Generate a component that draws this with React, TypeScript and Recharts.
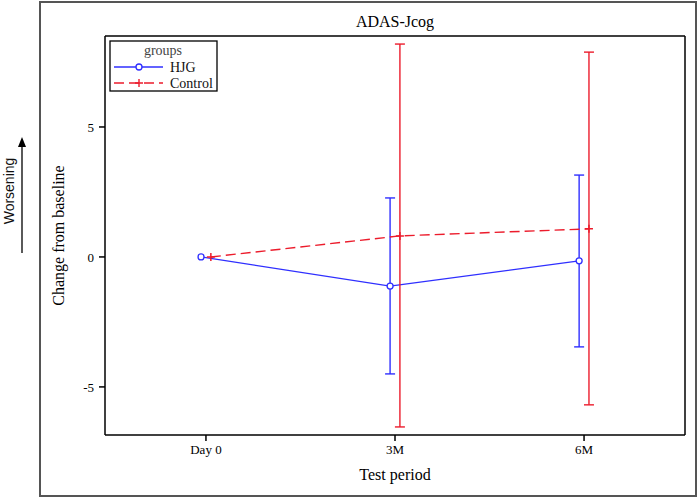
import React from "react";
import { ComposedChart, Line, XAxis, YAxis, ErrorBar, ReferenceLine } from "recharts";

// change from baseline
const categories = ["Day 0", "3M", "6M"];
const hjgMeans = [0, -1.12, -0.15];
const hjgUpper = [null, 2.27, 3.15];
const hjgLower = [null, -4.5, -3.46];
const controlMeans = [0, 0.81, 1.08];
const controlUpper = [null, 8.19, 7.88];
const controlLower = [null, -6.54, -5.69];
const yTicks = [-5, 0, 5];
const xTicks = [0, 1, 2];
const xDomain: [number, number] = [-0.534, 2.534];
const yDomain: [number, number] = [-6.85, 8.5];

const BLUE = "#2f2fff";
const RED = "#ec1c2c";
const SERIF = "'Liberation Serif', 'Times New Roman', serif";
const DODGE = 0.026;

function buildSeries(
  means: number[],
  upper: (number | null)[],
  lower: (number | null)[],
  shift: number
) {
  return categories.map((name, i) => {
    const hi = upper[i];
    const lo = lower[i];
    return {
      name,
      x: i + shift,
      value: means[i],
      err: hi == null || lo == null ? null : [means[i] - lo, hi - means[i]],
    };
  });
}

const hjgData = buildSeries(hjgMeans, hjgUpper, hjgLower, -DODGE);
const controlData = buildSeries(controlMeans, controlUpper, controlLower, DODGE);

const PlusDot = (props: any) => {
  const { cx, cy, index } = props;
  if (cx == null || cy == null) return null;
  return (
    <path
      key={`plus-${index}`}
      d={`M${cx - 4},${cy}h8M${cx},${cy - 4}v8`}
      stroke={RED}
      strokeWidth={1.5}
      fill="none"
    />
  );
};

function LegendBox() {
  return (
    <svg
      width={110}
      height={53}
      style={{ position: "absolute", left: 109, top: 40 }}
    >
      <rect x={1} y={1} width={107} height={50} fill="#fff" stroke="#000" strokeWidth={1.3} />
      <text x={54} y={15} textAnchor="middle" fontFamily={SERIF} fontSize={14} fill="#444">
        groups
      </text>
      <line x1={5} y1={27} x2={54} y2={27} stroke={BLUE} strokeWidth={1.4} />
      <circle cx={30} cy={27} r={3} fill="#fff" stroke={BLUE} strokeWidth={1.3} />
      <text x={61} y={32} fontFamily={SERIF} fontSize={14} fill="#111">
        HJG
      </text>
      <line x1={5} y1={43} x2={54} y2={43} stroke={RED} strokeWidth={1.4} strokeDasharray="10 5" />
      <path d="M26,43h8M30,39v8" stroke={RED} strokeWidth={1.4} />
      <text x={61} y={48} fontFamily={SERIF} fontSize={14} fill="#111">
        Control
      </text>
    </svg>
  );
}

export default function App() {
  return (
    <div style={{ position: "absolute", left: 0, top: 0, width: 699, height: 498, background: "#fff" }}>
      <div
        style={{
          position: "absolute",
          left: 39,
          top: 1,
          width: 654,
          height: 492,
          border: "2px solid #555",
        }}
      />
      <svg width={40} height={300} style={{ position: "absolute", left: 0, top: 0 }}>
        <line x1={22} y1={253} x2={22} y2={146} stroke="#000" strokeWidth={1.3} />
        <path d="M18,147L22,137L26,147Z" fill="#000" />
        <text
          x={0}
          y={0}
          transform="translate(14,191) rotate(-90)"
          textAnchor="middle"
          fontFamily="'Liberation Sans', Arial, sans-serif"
          fontSize={14}
          fill="#111"
        >
          Worsening
        </text>
      </svg>
      <ComposedChart
        width={699}
        height={498}
        margin={{ top: 36, right: 14, bottom: 33, left: 60 }}
        style={{ position: "absolute", left: 0, top: 0, fontFamily: SERIF }}
      >
        <XAxis
          dataKey="x"
          type="number"
          domain={xDomain}
          ticks={xTicks}
          tickFormatter={(v: number) => categories[v] ?? ""}
          height={30}
          tickSize={6}
          tickMargin={4}
          axisLine={{ stroke: "#000", strokeWidth: 1.5 }}
          tickLine={{ stroke: "#000", strokeWidth: 1.5 }}
          tick={{ fill: "#000", fontSize: 13, fontFamily: SERIF }}
          allowDuplicatedCategory={false}
          label={{
            value: "Test period",
            position: "bottom",
            offset: 4,
            fill: "#000",
            fontSize: 16,
            fontFamily: SERIF,
            style: { fontSize: 16 },
          }}
        />
        <YAxis
          type="number"
          domain={yDomain}
          ticks={yTicks}
          width={45}
          tickSize={6}
          tickMargin={5}
          axisLine={{ stroke: "#000", strokeWidth: 1.5 }}
          tickLine={{ stroke: "#000", strokeWidth: 1.5 }}
          tick={{ fill: "#000", fontSize: 13, fontFamily: SERIF }}
          label={{
            value: "Change from baseline",
            angle: -90,
            position: "insideLeft",
            offset: -2,
            fill: "#000",
            fontSize: 16,
            fontFamily: SERIF,
            style: { textAnchor: "middle", fontSize: 16 },
          }}
        />
        {/* top and right edges of the plot box */}
        <ReferenceLine
          y={yDomain[1]}
          stroke="#000"
          strokeWidth={1.5}
          label={{
            value: "ADAS-Jcog",
            position: "top",
            offset: 9,
            fill: "#000",
            fontSize: 16,
            fontFamily: SERIF,
            style: { fontSize: 16 },
          }}
        />
        <ReferenceLine x={xDomain[1]} stroke="#000" strokeWidth={1.5} />
        <Line
          data={hjgData}
          dataKey="value"
          type="linear"
          stroke={BLUE}
          strokeWidth={1.3}
          dot={{ r: 3, fill: "#fff", stroke: BLUE, strokeWidth: 1.3 }}
          activeDot={false}
          isAnimationActive={false}
        >
          <ErrorBar dataKey="err" width={5} stroke={BLUE} strokeWidth={1.4} direction="y" />
        </Line>
        <Line
          data={controlData}
          dataKey="value"
          type="linear"
          stroke={RED}
          strokeWidth={1.4}
          strokeDasharray="10 5"
          dot={PlusDot}
          activeDot={false}
          isAnimationActive={false}
        >
          <ErrorBar dataKey="err" width={5} stroke={RED} strokeWidth={1.4} direction="y" />
        </Line>
      </ComposedChart>
      <LegendBox />
    </div>
  );
}
